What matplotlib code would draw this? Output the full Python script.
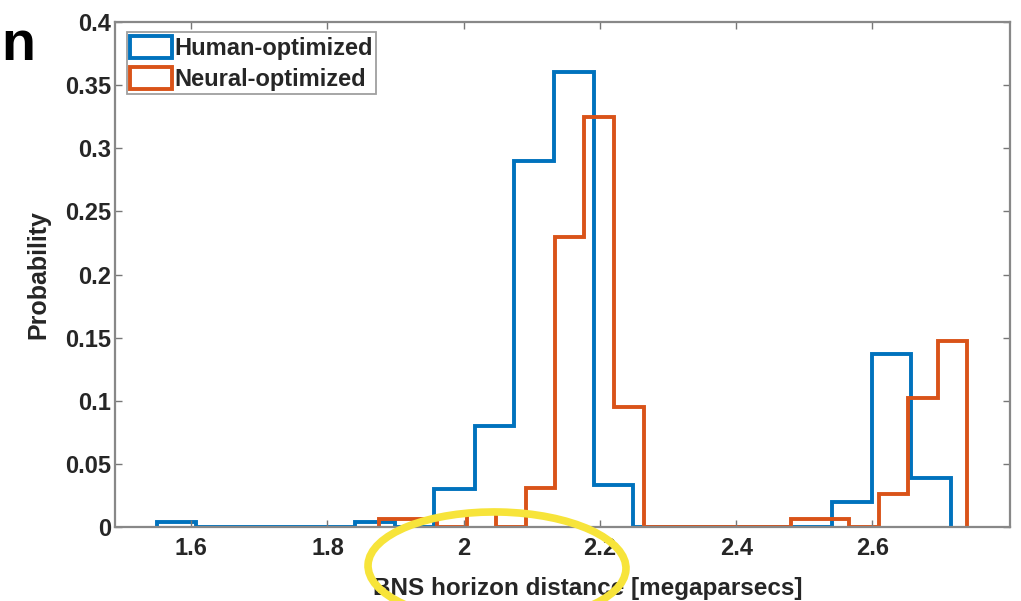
import numpy as np
import matplotlib.pyplot as plt
from matplotlib.patches import Patch, Ellipse

# bin edges and probabilities
human_edges = [1.549, 1.607, 1.666, 1.724, 1.782, 1.841, 1.899, 1.957, 2.016, 2.074, 2.132,
               2.191, 2.249, 2.307, 2.366, 2.424, 2.482, 2.541, 2.599, 2.657, 2.716]
human_prob = [0.004, 0, 0, 0, 0, 0.004, 0, 0.03, 0.08, 0.29, 0.36,
              0.033, 0, 0, 0, 0, 0, 0.02, 0.137, 0.039]

neural_edges = [1.875, 1.918, 1.961, 2.005, 2.048, 2.091, 2.134, 2.177, 2.221, 2.264, 2.307,
                2.350, 2.393, 2.437, 2.480, 2.523, 2.566, 2.609, 2.653, 2.696, 2.739]
neural_prob = [0.006, 0.006, 0, 0.012, 0, 0.031, 0.23, 0.325, 0.095, 0,
               0, 0, 0, 0, 0.006, 0.006, 0, 0.026, 0.102, 0.147]

xticks = [1.6, 1.8, 2.0, 2.2, 2.4, 2.6]
xticklabels = ['1.6', '1.8', '2', '2.2', '2.4', '2.6']
yticks = [0, 0.05, 0.1, 0.15, 0.2, 0.25, 0.3, 0.35, 0.4]
yticklabels = ['0', '0.05', '0.1', '0.15', '0.2', '0.25', '0.3', '0.35', '0.4']

blue = '#0072BD'
orange = '#D95319'
txt = '#262626'

plt.rcParams['font.family'] = ['Liberation Sans', 'DejaVu Sans']

fig = plt.figure(figsize=(10.21, 6.01), dpi=100)
ax = fig.add_axes([0.1126, 0.1231, 0.8766, 0.8403])

ax.stairs(human_prob, human_edges, color=blue, lw=2.8, baseline=0)
ax.stairs(neural_prob, neural_edges, color=orange, lw=2.8, baseline=0)

ax.set_xlim(1.488, 2.802)
ax.set_ylim(0, 0.4)
ax.set_xticks(xticks)
ax.set_xticklabels(xticklabels)
ax.set_yticks(yticks)
ax.set_yticklabels(yticklabels)
ax.tick_params(direction='in', top=True, right=True, length=5, width=1,
               color='#777777', labelsize=17)
ax.tick_params(axis='x', pad=7)
ax.tick_params(axis='y', pad=3)
for lab in ax.get_xticklabels() + ax.get_yticklabels():
    lab.set_fontweight('bold')
    lab.set_color(txt)
for sp in ax.spines.values():
    sp.set_color('#888888')
    sp.set_linewidth(1.6)

ax.set_xlabel('BNS horizon distance [megaparsecs]', fontsize=17.5, fontweight='bold',
              color=txt, va='center')
ax.xaxis.set_label_coords(0.528, -0.121)
ax.set_ylabel('Probability', fontsize=18, fontweight='bold', color=txt, va='center')
ax.yaxis.set_label_coords(-0.086, 0.5)

handles = [Patch(facecolor='white', edgecolor=blue, lw=2.8, label='Human-optimized'),
           Patch(facecolor='white', edgecolor=orange, lw=2.8, label='Neural-optimized')]
leg = ax.legend(handles=handles, loc='upper left', bbox_to_anchor=(0.0134, 0.980),
                frameon=True, fancybox=False, edgecolor='#888888',
                prop={'weight': 'bold', 'size': 17}, handlelength=1.75, handleheight=1.05,
                handletextpad=0.1, borderpad=0.15, labelspacing=0.3, borderaxespad=0)
leg.get_frame().set_linewidth(1.3)
for t in leg.get_texts():
    t.set_color(txt)

# letter from the neighbouring panel title
fig.text(0.001, 1 - 60 / 601, 'n', fontsize=40, fontweight='bold', ha='left',
         va='baseline', color='black')

# yellow highlight ellipse
ell = Ellipse((497 / 1021, 1 - 567 / 601), 258 / 1021, 110 / 601, angle=-2,
              transform=fig.transFigure, fill=False, edgecolor='#F7E43A', lw=5.5,
              zorder=10)
fig.add_artist(ell)

fig.savefig('out.png', dpi=100)
